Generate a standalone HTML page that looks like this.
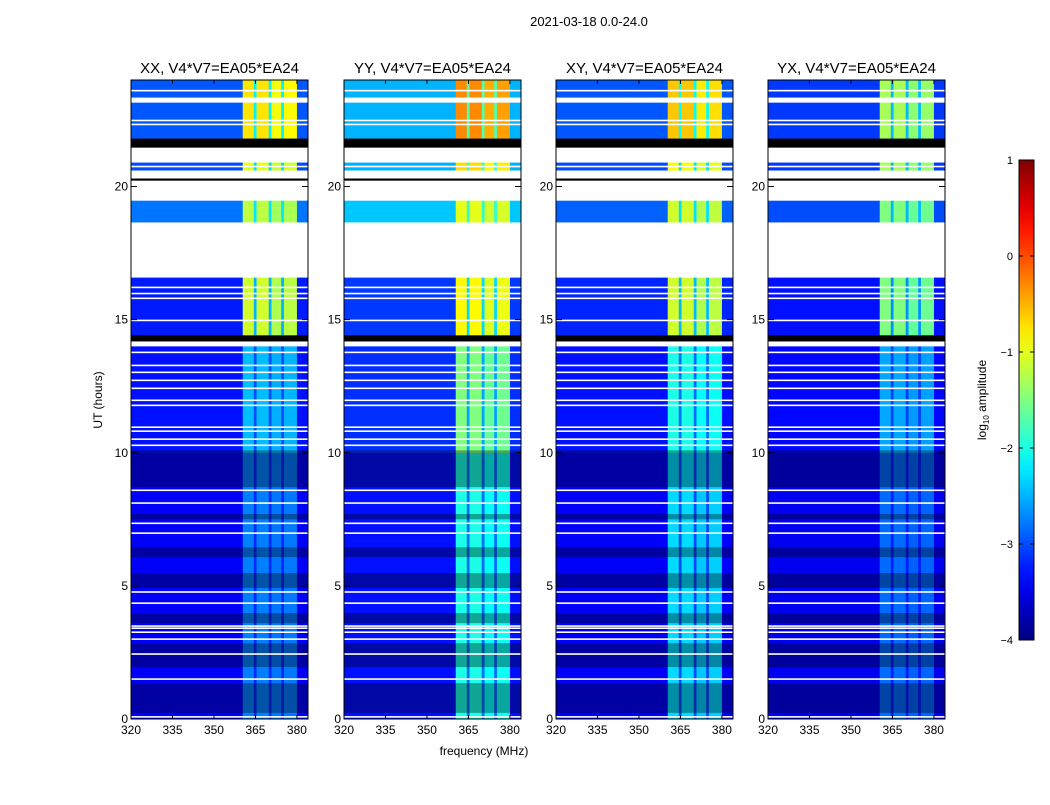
<!DOCTYPE html>
<html><head><meta charset="utf-8">
<style>
html,body{margin:0;padding:0;background:#fff;}
body{width:1050px;height:800px;overflow:hidden;font-family:"Liberation Sans",sans-serif;}
svg text{font-family:"Liberation Sans",sans-serif;}
</style></head>
<body>
<svg id="fig" width="1050" height="800" xmlns="http://www.w3.org/2000/svg">
<text x="589" y="26" font-size="13" text-anchor="middle">2021-03-18 0.0-24.0</text>
<text x="484" y="755" font-size="12" text-anchor="middle">frequency (MHz)</text>
<text transform="translate(102,400) rotate(-90)" font-size="12" text-anchor="middle">UT (hours)</text>
<g id="panels"></g>
<g id="cbar"></g>
</svg>
<script>
// ---- data ----
const panelTitles = ["XX, V4*V7=EA05*EA24","YY, V4*V7=EA05*EA24","XY, V4*V7=EA05*EA24","YX, V4*V7=EA05*EA24"];
const xTicks = [320,335,350,365,380];
const yTicks = [0,5,10,15,20];
const cbTicks = [1,0,-1,-2,-3,-4];
// frequency regions [start MHz, end MHz, band factor]
const freqRegions = [[320,360.4,0],[360.4,364.4,1],[364.4,365.4,0.35],[365.4,369.8,1],[369.8,370.8,0.35],[370.8,374.3,0.92],[374.3,375.3,0.35],[375.3,380,0.95],[380,384,0]];
// time zones with data [start h, end h]
const zoneTimes = [[0,10],[10,14],[14.41,16.58],[18.65,19.47],[20.6,20.9],[21.8,24]];
// background log amplitude per panel per zone
const bgXX = [-3.4,-3.3,-3.25,-2.8,-3.0,-2.95];
const bgYY = [-3.3,-3.15,-3.1,-2.4,-2.5,-2.5];
const bgXY = [-3.4,-3.3,-3.2,-2.9,-3.0,-2.95];
const bgYX = [-3.45,-3.35,-3.3,-3.0,-3.1,-3.1];
// band log amplitude per panel per zone
const bandXX = [-2.75,-2.45,-1.1,-1.2,-1.0,-0.75];
const bandYY = [-2.0,-1.5,-0.85,-1.0,-0.7,-0.3];
const bandXY = [-2.3,-2.0,-1.1,-1.1,-0.9,-0.6];
const bandYX = [-2.85,-2.55,-1.5,-1.5,-1.3,-1.3];
// densely flagged (black-striped) time intervals
const darkIntervals = [[0.23,1.35],[1.95,2.85],[3.6,3.98],[4.92,5.48],[6.08,6.45],[7.5,7.7],[8.71,10.09]];
// flagged (white) intervals
const whiteGaps = [[23.15,23.34],[20.9,21.46],[20.3,20.6],[19.47,20.22],[16.58,18.65],[14.0,14.18]];
const whiteLines = [23.6,22.48,22.33,20.75,16.21,15.98,15.8,14.97,13.77,13.28,13.02,12.72,12.42,11.97,11.78,10.96,10.81,10.51,10.28,8.59,8.11,7.35,6.98,4.77,4.35,3.49,3.41,3.26,3.0,2.44,1.5,0.08];
// fully black time intervals
const blackBlocks = [[21.46,21.8],[20.22,20.3],[14.18,14.41]];

const bgAll=[bgXX,bgYY,bgXY,bgYX], bandAll=[bandXX,bandYY,bandXY,bandYX];
// ---- layout ----
const NS="http://www.w3.org/2000/svg";
const axLefts=[131,344,556,768], axW=177, axTop=80, axBot=719;
const fMin=320,fMax=384,tMin=0,tMax=24;
function jet(v){
  const c=x=>Math.max(0,Math.min(1,x));
  const r=c(1.5-Math.abs(4*v-3)), g=c(1.5-Math.abs(4*v-2)), b=c(1.5-Math.abs(4*v-1));
  return `rgb(${Math.round(r*255)},${Math.round(g*255)},${Math.round(b*255)})`;
}
function colorOf(l){return jet((l+4)/5);}
function mk(tag,attrs,parent){const e=document.createElementNS(NS,tag);for(const k in attrs)e.setAttribute(k,attrs[k]);parent.appendChild(e);return e;}
const panelsG=document.getElementById('panels');


const names=['xx','yy','xy','yx'];
for(let p=0;p<4;p++){
  const L=axLefts[p];
  const xs=f=>L+(f-fMin)/(fMax-fMin)*axW;
  const ys=t=>axBot-(t-tMin)/(tMax-tMin)*(axBot-axTop);
  const g=mk('g',{},panelsG);
  
  
  const hm=mk('g',{},g);
  
  
  for(let z=0;z<zoneTimes.length;z++){
    const [t0,t1]=zoneTimes[z];
    for(const [f0,f1,fac] of freqRegions){
      const lv=bgAll[p][z]+fac*(bandAll[p][z]-bgAll[p][z]);
      const r=mk('rect',{x:xs(f0),y:ys(t1),width:xs(f1)-xs(f0)+0.3,height:ys(t0)-ys(t1)+0.3,fill:colorOf(lv)},hm);
      
      
    }
  }
  for(const [t0,t1] of darkIntervals){
    const r=mk('rect',{x:L,y:ys(t1),width:axW,height:ys(t0)-ys(t1),fill:'#000',opacity:0.35},hm);
    
    
  }
  for(const [t0,t1] of whiteGaps){
    const r=mk('rect',{x:L,y:ys(t1),width:axW,height:ys(t0)-ys(t1),fill:'#fff'},hm);
    
    
  }
  for(const t of whiteLines){
    const r=mk('rect',{x:L,y:ys(t)-0.8,width:axW,height:1.6,fill:'#fff'},hm);
    
    
  }
  for(const [t0,t1] of blackBlocks){
    const r=mk('rect',{x:L,y:ys(t1),width:axW,height:Math.max(2,ys(t0)-ys(t1)),fill:'#000'},hm);
    
    
  }
  const fr=mk('rect',{x:L,y:axTop,width:axW,height:axBot-axTop,fill:'none',stroke:'#000','stroke-width':1},g);
  
  
  const tt=mk('text',{x:L+axW/2,y:73,'font-size':15,'text-anchor':'middle'},g);
  tt.textContent=panelTitles[p];
  
  
  for(const f of xTicks){
    const x=xs(f);
    mk('line',{x1:x,x2:x,y1:axBot,y2:axBot-4,stroke:'#000'},g);
    mk('line',{x1:x,x2:x,y1:axTop,y2:axTop+4,stroke:'#000'},g);
    const tx=mk('text',{x:x,y:axBot+15,'font-size':12,'text-anchor':'middle'},g);
    tx.textContent=f;
    
    
  }
  for(const t of yTicks){
    const y=ys(t);
    mk('line',{x1:L,x2:L+6,y1:y,y2:y,stroke:'#000'},g);
    mk('line',{x1:L+axW,x2:L+axW-6,y1:y,y2:y,stroke:'#000'},g);
    const ty=mk('text',{x:L-3,y:y+4,'font-size':12,'text-anchor':'end'},g);
    ty.textContent=t;
    
    
  }
}
// colorbar
const cb=document.getElementById('cbar');


const cbX=1019,cbW=15,cbTop=160,cbBot=640;
const defs=mk('defs',{},cb);
const grad=mk('linearGradient',{id:'jetg',x1:0,y1:1,x2:0,y2:0},defs);
for(let i=0;i<=20;i++){mk('stop',{offset:i/20,'stop-color':jet(i/20)},grad);}
const cr=mk('rect',{x:cbX,y:cbTop,width:cbW,height:cbBot-cbTop,fill:'url(#jetg)',stroke:'#000'},cb);


const cy=v=>cbBot-(v+4)/5*(cbBot-cbTop);
for(const v of cbTicks){
  const y=cy(v);
  mk('line',{x1:cbX,x2:cbX+4,y1:y,y2:y,stroke:'#000'},cb);
  mk('line',{x1:cbX+cbW,x2:cbX+cbW-4,y1:y,y2:y,stroke:'#000'},cb);
  const t=mk('text',{x:1013,y:y+4,'font-size':11,'text-anchor':'end'},cb);
  t.textContent=(v<0?'\u2212'+(-v):String(v));
  
  
}
const cl=mk('text',{transform:'translate(986,400) rotate(-90)','font-size':12,'text-anchor':'middle'},cb);
cl.innerHTML='log<tspan font-size="8" dy="3">10</tspan><tspan dy="-3"> amplitude</tspan>';


</script>
</body></html>
